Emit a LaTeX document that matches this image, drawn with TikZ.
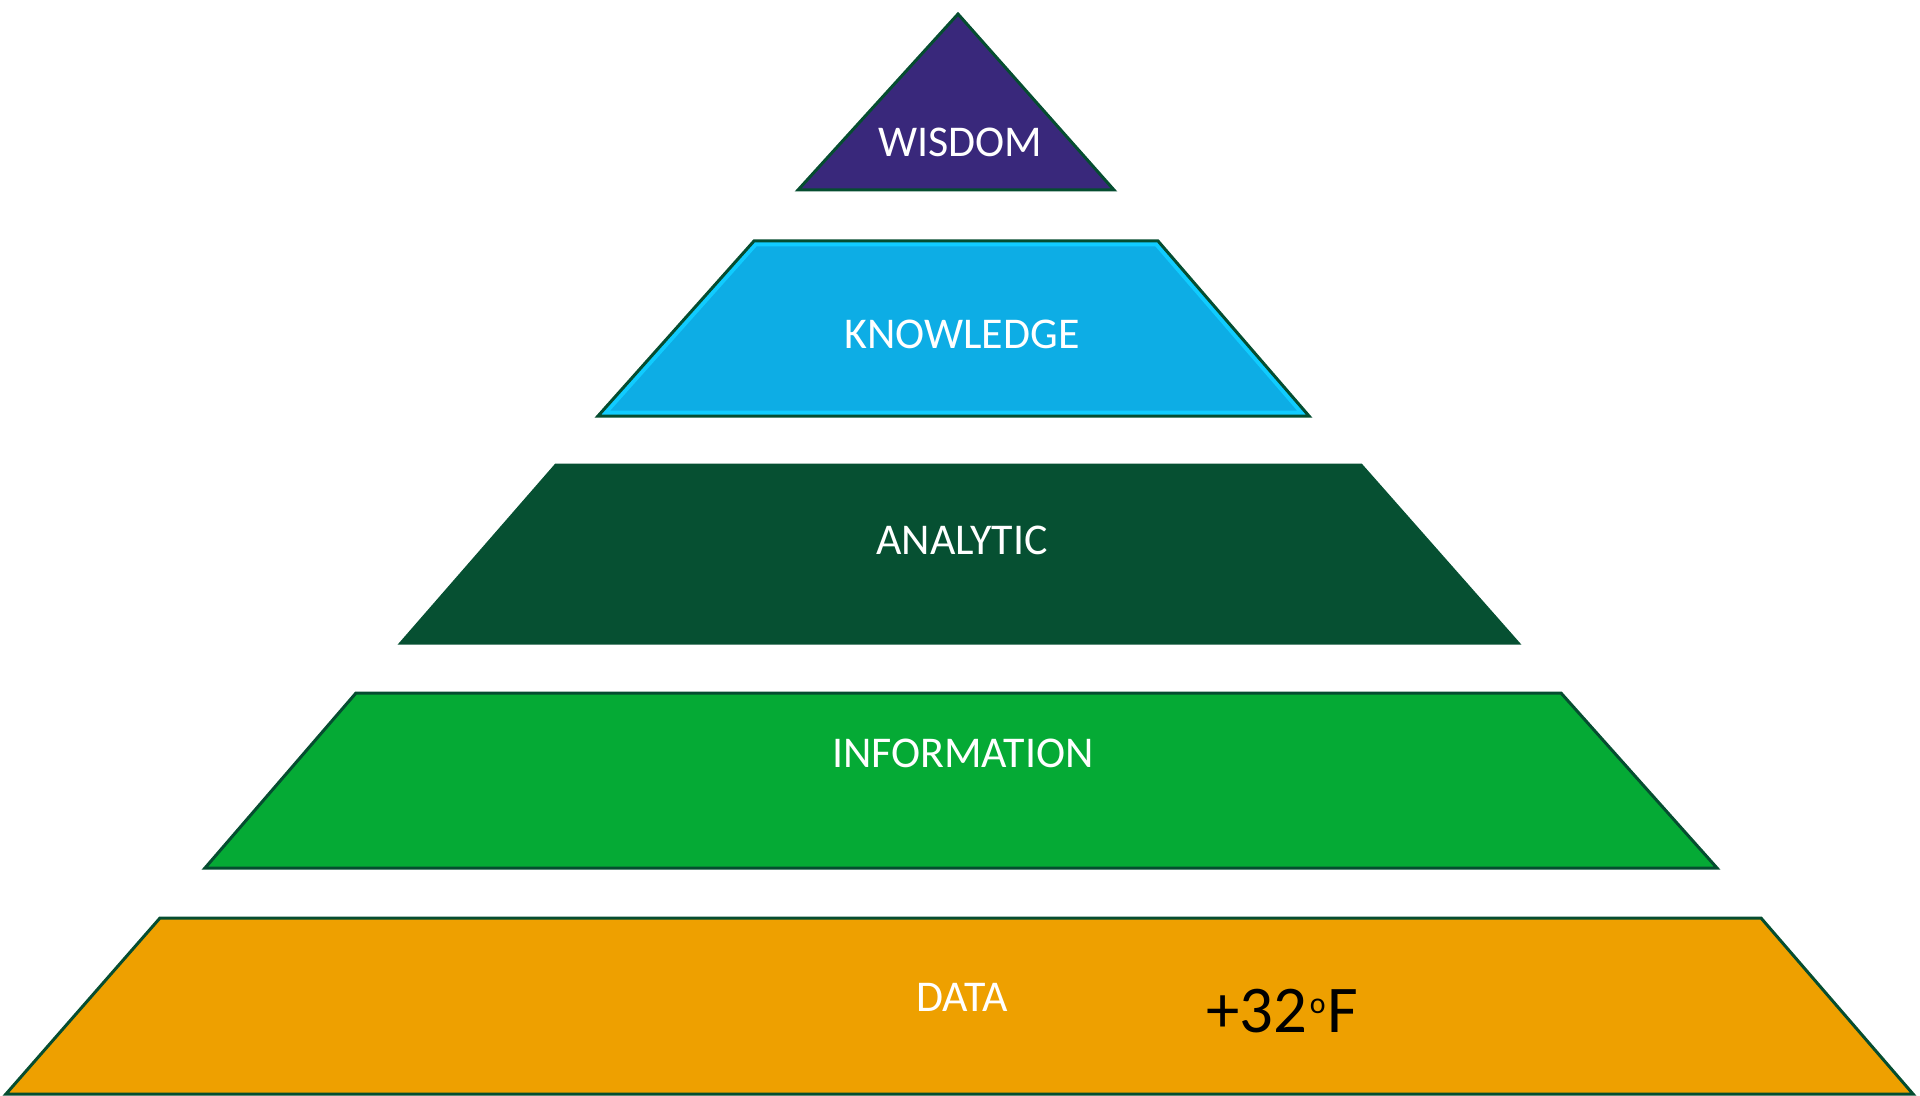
\documentclass[tikz,border=0pt]{standalone}
\usepackage{fontspec}
\setmainfont{Carlito}[Numbers=Lining]
\usetikzlibrary{positioning}

\definecolor{wisdomcol}{RGB}{57,40,123}
\definecolor{knowcol}{RGB}{13,173,229}
\definecolor{knowrim}{RGB}{16,204,255}
\definecolor{analyticcol}{RGB}{6,80,50}
\definecolor{infocol}{RGB}{5,170,53}
\definecolor{datacol}{RGB}{238,160,0}
\definecolor{edgecol}{RGB}{5,77,48}

\begin{document}
\begin{tikzpicture}[
    x=0.1mm, y=-0.1mm,
    % 全域樣式設定
    layer/.style={draw=edgecol, line width=0.3mm, line join=miter}, % 每一層的外框
    label text/.style={font=\fontsize{12.5}{15}\selectfont, text=white, anchor=base, inner sep=0pt}, % 白色標題文字
    note text/.style={font=\fontsize{19}{23}\selectfont, text=black, anchor=base west, inner sep=0pt}
]
    \useasboundingbox (0,0) rectangle (1920,1096);

    % --- 1. 最上層三角形 (WISDOM) ---
    \draw[layer, fill=wisdomcol] (798,190) -- (958,14) -- (1114,190) -- cycle;
    \node[label text] (wisdom) at (960,157) {WISDOM};

    % --- 2. 第二層 (KNOWLEDGE),內側有淺藍色邊 ---
    \coordinate (k_tl) at (754,241);
    \coordinate (k_tr) at (1158,241);
    \coordinate (k_br) at (1309,416);
    \coordinate (k_bl) at (598,416);
    \fill[knowcol] (k_tl) -- (k_tr) -- (k_br) -- (k_bl) -- cycle;
    \begin{scope}
        \clip (k_tl) -- (k_tr) -- (k_br) -- (k_bl) -- cycle;
        \draw[knowrim, line width=1.1mm] (k_tl) -- (k_tr) -- (k_br) -- (k_bl) -- cycle;
    \end{scope}
    \draw[layer] (k_tl) -- (k_tr) -- (k_br) -- (k_bl) -- cycle;
    \node[label text] (knowledge) at (962,349) {KNOWLEDGE};

    % --- 3. 第三層 (ANALYTIC) ---
    \draw[layer, draw=analyticcol, fill=analyticcol] (556,465) -- (1361,465) -- (1518,643) -- (401,643) -- cycle;
    \node[label text] (analytic) at (962,554) {ANALYTIC};

    % --- 4. 第四層 (INFORMATION) ---
    \draw[layer, fill=infocol] (356,693) -- (1561,693) -- (1717,868) -- (205,868) -- cycle;
    \node[label text] (information) at (963,767) {INFORMATION};

    % --- 5. 最底層 (DATA) 與溫度 ---
    \draw[layer, fill=datacol] (160,918) -- (1761,918) -- (1913,1094) -- (6,1094) -- cycle;
    \node[label text] (data) at (962,1011) {DATA};
    \node[note text] (temp) at (1206,1032) {+32\hspace{0.6pt}\raisebox{0.19cm}{\fontsize{8.5}{10}\selectfont o}\hspace{0.6pt}F};

\end{tikzpicture}
\end{document}
